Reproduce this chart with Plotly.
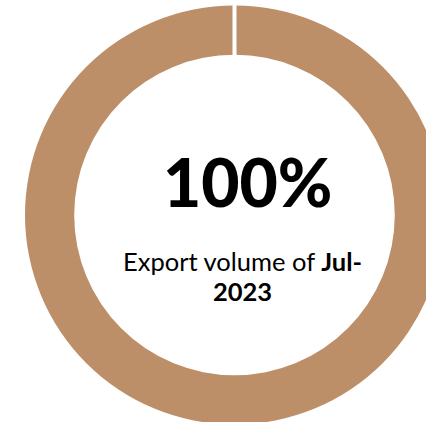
import plotly.graph_objects as go

# Data
labels = ["Export volume"]
values = [100]
period = "Jul-2023"
subtitle = "Export volume of"

W, H = 450, 430
cx_px, cy_px, r_px = 234.5, 215.0, 209.5

x0 = (cx_px - r_px) / W
x1 = (cx_px + r_px) / W
y0 = (H - (cy_px + r_px)) / H
y1 = (H - (cy_px - r_px)) / H

share = values[0] / sum(values) * 100

fig = go.Figure(go.Pie(
    labels=labels,
    values=values,
    hole=0.765,
    sort=False,
    direction="clockwise",
    rotation=0,
    marker=dict(colors=["#BD8F68"], line=dict(width=0)),
    textinfo="none",
    hoverinfo="skip",
    showlegend=False,
    domain=dict(x=[x0, x1], y=[y0, y1]),
))

cxp = (x0 + x1) / 2
fig.add_shape(type="line", xref="paper", yref="paper",
              x0=cxp, x1=cxp, y0=y1 + 0.01, y1=y1 - 60 / H,
              line=dict(color="white", width=4), layer="above")

fig.add_annotation(text=f"{share:.0f}%", x=247 / W, y=(H - 181) / H,
                   xref="paper", yref="paper", showarrow=False,
                   xanchor="center", yanchor="middle",
                   font=dict(family="Lato", size=66, color="#000000",
                             weight=900))

month, year = period.split("-")
fig.add_annotation(text=f"{subtitle} <b>{month}-</b>",
                   x=242 / W, y=(H - 261) / H, xref="paper", yref="paper",
                   showarrow=False, xanchor="center", yanchor="middle",
                   font=dict(family="Lato", size=25.5, color="#000000"))
fig.add_annotation(text=f"<b>{year}</b>",
                   x=242 / W, y=(H - 291) / H, xref="paper", yref="paper",
                   showarrow=False, xanchor="center", yanchor="middle",
                   font=dict(family="Lato", size=25.5, color="#000000"))

fig.update_layout(width=W, height=H, margin=dict(l=0, r=0, t=0, b=0),
                  paper_bgcolor="white", plot_bgcolor="white")

fig.write_html("out.html", config={"displayModeBar": False}, post_script=(
    "document.body.style.margin='0';"
    "document.body.style.overflow='hidden';"
    "document.documentElement.style.overflow='hidden';"))
